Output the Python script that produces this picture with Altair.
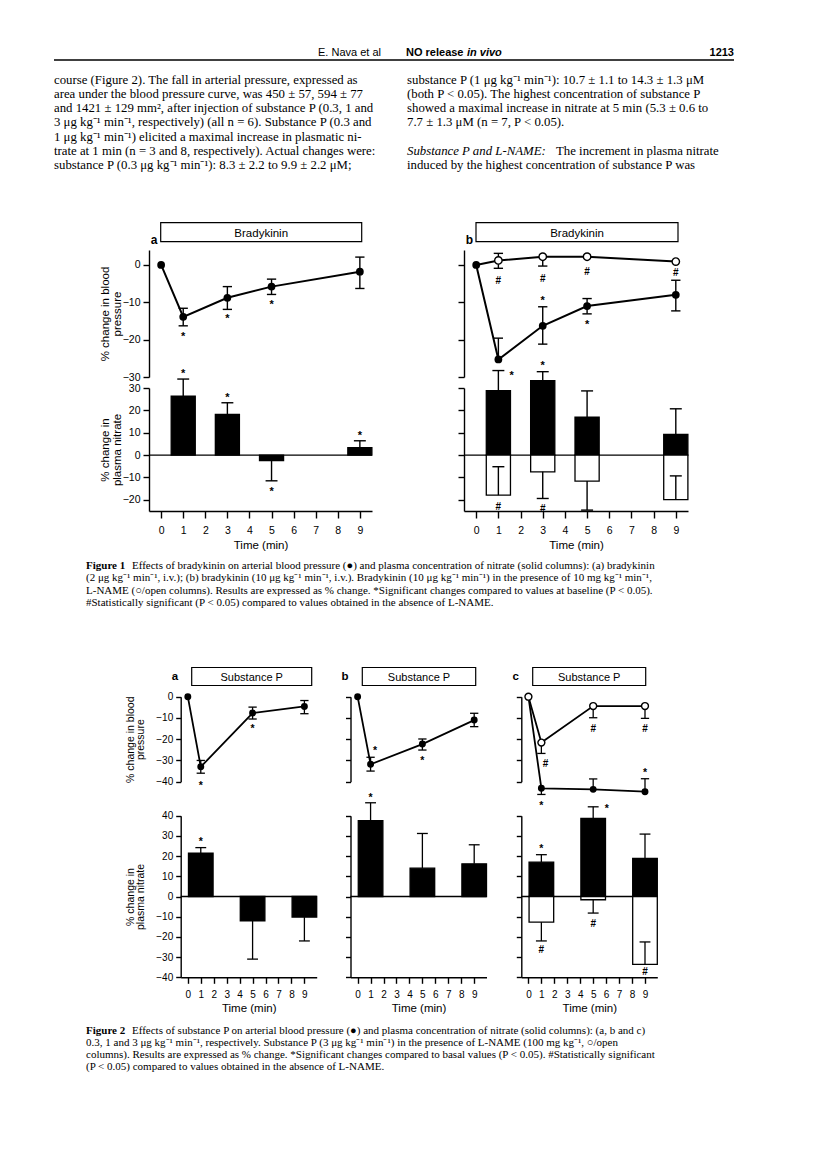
import altair as alt
import pandas as pd

M = 8            # page margin of the html page
W, H = 800, 1145 # drawing area
SANS = "Liberation Sans, Arial, Helvetica, sans-serif"
SERIF = "Liberation Serif, Times New Roman, serif"

# ======================= page text =======================
head_author = "E. Nava et al"
head_title = "NO release"
head_title_it = "in vivo"
head_page = "1213"
left_column = [
    "course (Figure 2). The fall in arterial pressure, expressed as",
    "area under the blood pressure curve, was 450 ± 57, 594 ± 77",
    "and 1421 ± 129 mm², after injection of substance P (0.3, 1 and",
    "3 μg kg⁻¹ min⁻¹, respectively) (all n = 6). Substance P (0.3 and",
    "1 μg kg⁻¹ min⁻¹) elicited a maximal increase in plasmatic ni-",
    "trate at 1 min (n = 3 and 8, respectively). Actual changes were:",
    "substance P (0.3 μg kg⁻¹ min⁻¹):  8.3 ± 2.2  to  9.9 ± 2.2 μM;",
]
right_column = [
    "substance P (1 μg kg⁻¹ min⁻¹):  10.7 ± 1.1  to  14.3 ± 1.3 μM",
    "(both P < 0.05). The highest concentration of substance P",
    "showed a maximal increase in nitrate at 5 min (5.3 ± 0.6 to",
    "7.7 ± 1.3 μM (n = 7, P < 0.05).",
]
right_heading = "Substance P and L-NAME:"
right_after_heading = "The increment in plasma nitrate"
right_last = "induced by the highest concentration of substance P was"

cap1_label = "Figure 1"
cap1_first = "Effects of bradykinin on arterial blood pressure (●) and plasma concentration of nitrate (solid columns): (a) bradykinin"
cap1_rest = [
    "(2 μg kg⁻¹ min⁻¹, i.v.); (b) bradykinin (10 μg kg⁻¹ min⁻¹, i.v.). Bradykinin (10 μg kg⁻¹ min⁻¹) in the presence of 10 mg kg⁻¹ min⁻¹,",
    "L-NAME (○/open columns). Results are expressed as % change. *Significant changes compared to values at baseline (P < 0.05).",
    "#Statistically significant (P < 0.05) compared to values obtained in the absence of L-NAME.",
]
cap2_label = "Figure 2"
cap2_first = "Effects of substance P on arterial blood pressure (●) and plasma concentration of nitrate (solid columns): (a, b and c)"
cap2_rest = [
    "0.3, 1 and 3 μg kg⁻¹ min⁻¹, respectively. Substance P (3 μg kg⁻¹ min⁻¹) in the presence of L-NAME (100 mg kg⁻¹, ○/open",
    "columns). Results are expressed as % change. *Significant changes compared to basal values (P < 0.05). #Statistically significant",
    "(P < 0.05) compared to values obtained in the absence of L-NAME.",
]
fig1_drug = "Bradykinin"
fig2_drug = "Substance P"
bp_title = ["% change in blood", "pressure"]
no_title = ["% change in", "plasma nitrate"]
time_title = "Time (min)"
x_ticks = [0, 1, 2, 3, 4, 5, 6, 7, 8, 9]

# ======================= Figure 1 data (bradykinin) =======================
f1_time = [0, 1, 3, 5, 9]
f1_bar_time = [1, 3, 5, 9]
# panel a, blood pressure
f1a_bp = [0, -13.9, -8.8, -5.8, -1.8]
f1a_bp_hi = [0, -11.6, -5.8, -3.8, 2.1]
f1a_bp_lo = [0, -16.3, -11.9, -7.9, -6.3]
f1a_bp_star_t = [1, 3, 5]
f1a_bp_star_y = [-18.5, -13.8, -9.9]
# panel a, nitrate
f1a_no = [26.4, 18.2, -2.5, 3.3]
f1a_no_err = [34.0, 23.4, -11.5, 6.4]
f1a_no_star_t = [1, 3, 5, 9]
f1a_no_star_y = [37.8, 27.0, -15.0, 10.0]
# panel b, blood pressure
f1b_bp = [0, -25.3, -16.3, -11.0, -8.0]
f1b_bp_hi = [0, -19.6, -11.2, -9.0, -4.1]
f1b_bp_lo = [0, -25.3, -21.2, -13.1, -12.3]
f1b_bp_ln = [0, 1.2, 2.2, 2.2, 0.9]
f1b_bp_ln_hi = [0, 3.1, 2.2, 2.2, 0.9]
f1b_bp_ln_lo = [0, -0.9, -0.3, 2.2, 0.9]
f1b_bp_star_t = [3, 5]
f1b_bp_star_y = [-8.9, -15.2]
f1b_bp_hash_t = [1, 3, 5, 9]
f1b_bp_hash_y = [-4.0, -3.4, -1.5, -2.0]
# panel b, nitrate
f1b_no = [28.8, 33.3, 17.0, 9.3]
f1b_no_err = [37.8, 37.3, 28.7, 20.7]
f1b_no_ln = [-17.9, -7.5, -11.6, -19.9]
f1b_no_ln_err = [-5.2, -19.4, -24.6, -9.3]
f1b_no_star_t = [1.6, 3]
f1b_no_star_y = [36.9, 41.0]
f1b_no_hash_t = [1, 3]
f1b_no_hash_y = [-22.8, -23.6]

# ======================= Figure 2 data (substance P) =======================
f2_time = [0, 1, 5, 9]
f2_bar_time = [1, 5, 9]
# a
f2a_bp = [0, -33.0, -7.7, -4.6]
f2a_bp_hi = [0, -30.0, -4.9, -1.8]
f2a_bp_lo = [0, -36.0, -10.5, -8.0]
f2a_bp_star_t = [1, 5]
f2a_bp_star_y = [-40.5, -13.8]
f2a_no = [21.5, -12.0, -10.2]
f2a_no_err = [24.2, -31.0, -22.0]
f2a_no_star_t = [1]
f2a_no_star_y = [28.5]
# b
f2b_bp = [0, -31.8, -22.3, -11.0]
f2b_bp_hi = [0, -28.5, -19.9, -7.8]
f2b_bp_lo = [0, -35.0, -25.1, -14.1]
f2b_bp_star_t = [1.35, 5]
f2b_bp_star_y = [-24.3, -29.0]
f2b_no = [37.6, 14.0, 16.2]
f2b_no_err = [46.4, 31.2, 25.6]
f2b_no_star_t = [1]
f2b_no_star_y = [50.4]
# c
f2c_bp = [0, -43.1, -43.6, -44.7]
f2c_bp_hi = [0, -43.1, -38.7, -38.6]
f2c_bp_lo = [0, -46.0, -43.6, -44.7]
f2c_bp_ln = [0, -21.6, -4.4, -4.4]
f2c_bp_ln_lo = [0, -26.7, -9.9, -10.2]
f2c_bp_star_t = [1, 9]
f2c_bp_star_y = [-50.0, -34.5]
f2c_bp_hash_t = [1.33, 5, 9]
f2c_bp_hash_y = [-31.4, -14.9, -14.9]
f2c_no = [17.0, 38.7, 18.8]
f2c_no_err = [20.7, 44.4, 30.9]
f2c_no_ln = [-12.7, -1.6, -33.6]
f2c_no_ln_err = [-22.0, -8.2, -22.5]
f2c_no_star_t = [1, 6.05]
f2c_no_star_y = [24.8, 44.8]
f2c_no_hash_t = [1, 5, 9]
f2c_no_hash_y = [-25.8, -13.0, -36.9]

# ======================= layout (page pixels) =======================
F1_XDOM = [-0.55, 9.55]
F1_XR = {"a": [149, 372], "b": [464, 688]}
F1_TOP = ([-30, 4], [377, 250])
F1_BOT = ([-25, 30], [511, 388])
F2_XDOM = [-0.55, 9.95]
F2_XR = {"a": [180.7, 316.7], "b": [350.5, 486.5], "c": [521.3, 657.3]}
F2_TOP = ([-40, 0], [781.7, 696.7])
F2_BOT = ([-40, 40], [977.3, 815.7])

DUMMY = pd.DataFrame({"k": [0]})


def sc(dom, rng):
    return alt.Scale(domain=dom, range=[rng[0] - M, rng[1] - M], nice=False, zero=False)


def yaxis(axis_x, values, title=None, labels=True, tick=6, lab=10.5, tsize=11.5, tx=-30, ty=0,
          lh=12):
    kw = dict(orient="left", offset=-(axis_x - M), values=values, tickSize=tick, labels=labels,
              labelFontSize=lab, labelPadding=3, grid=False, labelFlush=False, labelOverlap=False)
    if title:
        kw.update(title=title, titleFontSize=tsize, titleAngle=-90, titleAlign="center",
                  titleBaseline="bottom", titleX=tx, titleY=ty - M, titleLineHeight=lh)
    else:
        kw.update(title=None)
    return alt.Axis(**kw)


def xaxis(axis_y, lab=10.5, tsize=11.5, tick=7, pad=5, tpad=3):
    return alt.Axis(orient="bottom", offset=(axis_y - M) - H, values=x_ticks, tickSize=tick,
                    labelFontSize=lab, labelPadding=pad, format="d", title=time_title,
                    titleFontSize=tsize, titlePadding=tpad, grid=False, labelFlush=False,
                    labelOverlap=False)


class Panel:
    """One plotting panel: x/y scales and axes shared by all of its layers."""

    def __init__(self, xs, ys, xax, yax):
        self.xs, self.ys, self.xax, self.yax = xs, ys, xax, yax
        self.layers = []

    def X(self, f):
        return alt.X(f, scale=self.xs, axis=self.xax)

    def Y(self, f):
        return alt.Y(f, scale=self.ys, axis=self.yax)

    def line(self, t, v, width):
        df = pd.DataFrame({"t": t, "v": v})
        self.layers.append(alt.Chart(df).mark_line(color="black", strokeWidth=width).encode(
            x=self.X("t:Q"), y=self.Y("v:Q")))

    def errs(self, t, v, ends, capw, width):
        rows = [(a, b, c) for a, b, c in zip(t, v, ends) if abs(c - b) > 1e-9]
        df = pd.DataFrame(rows, columns=["t", "v", "e"])
        base = alt.Chart(df)
        self.layers.append(base.mark_rule(color="black", strokeWidth=width).encode(
            x=self.X("t:Q"), y=self.Y("v:Q"), y2="e:Q"))
        self.layers.append(base.transform_calculate(
            c1=f"datum.t - {capw}", c2=f"datum.t + {capw}").mark_rule(
            color="black", strokeWidth=width).encode(x=self.X("c1:Q"), x2="c2:Q", y=self.Y("e:Q")))

    def dots(self, t, v, size, hollow=False):
        df = pd.DataFrame({"t": t, "v": v})
        if hollow:
            mk = alt.Chart(df).mark_point(shape="circle", filled=True, fill="white",
                                          stroke="black", strokeWidth=1.4, size=size, opacity=1)
        else:
            mk = alt.Chart(df).mark_point(shape="circle", filled=True, color="black", size=size,
                                          opacity=1)
        self.layers.append(mk.encode(x=self.X("t:Q"), y=self.Y("v:Q")))

    def symbols(self, t, y, sym, size, dy):
        df = pd.DataFrame({"t": t, "y": y, "s": [sym] * len(t)})
        self.layers.append(alt.Chart(df).mark_text(
            font=SANS, fontSize=size, color="black", fontWeight="bold", baseline="alphabetic",
            dy=dy).encode(x=self.X("t:Q"), y=self.Y("y:Q"), text="s:N"))

    def bars(self, t, v, hw, hollow=False):
        df = pd.DataFrame({"t": t, "v": v})
        self.layers.append(alt.Chart(df).transform_calculate(
            b1=f"datum.t - {hw}", b2=f"datum.t + {hw}", z="0").mark_rect(
            fill="white" if hollow else "black", stroke="black", strokeWidth=1.3).encode(
            x=self.X("b1:Q"), x2="b2:Q", y=self.Y("v:Q"), y2="z:Q"))

    def zero_line(self, xdom):
        df = pd.DataFrame({"a": [xdom[0]], "b": [xdom[1]], "z": [0]})
        self.layers.append(alt.Chart(df).mark_rule(color="black", strokeWidth=1.3).encode(
            x=self.X("a:Q"), x2="b:Q", y=self.Y("z:Q")))

    def chart(self):
        return alt.layer(*self.layers)


def text_mark(lines, x, y, size, font=SERIF, weight="normal", style="normal", align="left",
              lh=None):
    kw = dict(font=font, fontSize=size, fontWeight=weight, fontStyle=style, align=align,
              baseline="alphabetic", color="black")
    if lh:
        kw["lineHeight"] = lh
    return alt.Chart(DUMMY).mark_text(**kw).encode(
        x=alt.value(x - M), y=alt.value(y - M), text=alt.value(lines))


def box(x1, x2, y1, y2, label, size, letter, lx, ly):
    r = alt.Chart(DUMMY).mark_rect(fill="white", stroke="black", strokeWidth=1.2).encode(
        x=alt.value(x1 - M), x2=alt.value(x2 - M), y=alt.value(y1 - M), y2=alt.value(y2 - M))
    t = text_mark(label, (x1 + x2) / 2, y2 - 5, size, font=SANS, align="center")
    l = text_mark(letter, lx, ly, size + 0.5, font=SANS, weight="bold", align="center")
    return [r, t, l]


layers = []

# ---------------------------------------------------------------- Figure 1
for key in ["a", "b"]:
    xr = F1_XR[key]
    xs = sc(F1_XDOM, xr)
    first = key == "a"
    yax_t = yaxis(xr[0], [0, -10, -20, -30], bp_title if first else None, labels=first,
                  tx=-39, ty=(F1_TOP[1][0] + F1_TOP[1][1]) / 2)
    yax_b = yaxis(xr[0], [30, 20, 10, 0, -10, -20], no_title if first else None, labels=first,
                  tx=-39, ty=(F1_BOT[1][0] + F1_BOT[1][1]) / 2)
    top = Panel(xs, sc(*F1_TOP), None, yax_t)
    bot = Panel(xs, sc(*F1_BOT), xaxis(F1_BOT[1][0], pad=7, tpad=4), yax_b)
    if first:
        top.line(f1_time, f1a_bp, 2.0)
        top.errs(f1_time, f1a_bp, f1a_bp_hi, 0.21, 1.4)
        top.errs(f1_time, f1a_bp, f1a_bp_lo, 0.21, 1.4)
        top.dots(f1_time, f1a_bp, 60)
        top.symbols(f1a_bp_star_t, f1a_bp_star_y, "*", 11, 6)
        bot.zero_line(F1_XDOM)
        bot.bars(f1_bar_time, f1a_no, 0.545)
        bot.errs(f1_bar_time, f1a_no, f1a_no_err, 0.27, 1.4)
        bot.symbols(f1a_no_star_t, f1a_no_star_y, "*", 11, 6)
    else:
        top.line(f1_time, f1b_bp_ln, 2.0)
        top.line(f1_time, f1b_bp, 2.0)
        for hi_lo in (f1b_bp_hi, f1b_bp_lo):
            top.errs(f1_time, f1b_bp, hi_lo, 0.21, 1.4)
        for hi_lo in (f1b_bp_ln_hi, f1b_bp_ln_lo):
            top.errs(f1_time, f1b_bp_ln, hi_lo, 0.21, 1.4)
        top.dots(f1_time[1:], f1b_bp_ln[1:], 55, hollow=True)
        top.dots(f1_time, f1b_bp, 60)
        top.symbols(f1b_bp_star_t, f1b_bp_star_y, "*", 11, 6)
        top.symbols(f1b_bp_hash_t, f1b_bp_hash_y, "#", 10, 4)
        bot.zero_line(F1_XDOM)
        bot.bars(f1_bar_time, f1b_no, 0.545)
        bot.bars(f1_bar_time, f1b_no_ln, 0.545, hollow=True)
        bot.errs(f1_bar_time, f1b_no, f1b_no_err, 0.27, 1.4)
        bot.errs(f1_bar_time, f1b_no_ln, f1b_no_ln_err, 0.27, 1.4)
        bot.symbols(f1b_no_star_t, f1b_no_star_y, "*", 11, 6)
        bot.symbols(f1b_no_hash_t, f1b_no_hash_y, "#", 10, 4)
    layers.append(top.chart())
    layers.append(bot.chart())

layers += box(160.7, 361.7, 222.7, 241.7, fig1_drug, 11.5, "a", 154, 244)
layers += box(476, 678, 222.7, 241.7, fig1_drug, 11.5, "b", 469.5, 244)

# ---------------------------------------------------------------- Figure 2
f2_sets = {
    "a": dict(bp=f2a_bp, hi=f2a_bp_hi, lo=f2a_bp_lo, st=(f2a_bp_star_t, f2a_bp_star_y),
              no=f2a_no, ne=f2a_no_err, nst=(f2a_no_star_t, f2a_no_star_y)),
    "b": dict(bp=f2b_bp, hi=f2b_bp_hi, lo=f2b_bp_lo, st=(f2b_bp_star_t, f2b_bp_star_y),
              no=f2b_no, ne=f2b_no_err, nst=(f2b_no_star_t, f2b_no_star_y)),
    "c": dict(bp=f2c_bp, hi=f2c_bp_hi, lo=f2c_bp_lo, st=(f2c_bp_star_t, f2c_bp_star_y),
              no=f2c_no, ne=f2c_no_err, nst=(f2c_no_star_t, f2c_no_star_y)),
}
for key in ["a", "b", "c"]:
    d = f2_sets[key]
    xr = F2_XR[key]
    xs = sc(F2_XDOM, xr)
    first = key == "a"
    yax_t = yaxis(xr[0], [0, -10, -20, -30, -40], bp_title if first else None, labels=first,
                  tick=5, lab=10, tsize=10.5, tx=-45.5, ty=(F2_TOP[1][0] + F2_TOP[1][1]) / 2,
                  lh=10.5)
    yax_b = yaxis(xr[0], [40, 30, 20, 10, 0, -10, -20, -30, -40], no_title if first else None,
                  labels=first, tick=5, lab=10, tsize=10.5, tx=-45.5,
                  ty=(F2_BOT[1][0] + F2_BOT[1][1]) / 2, lh=10.5)
    top = Panel(xs, sc(*F2_TOP), None, yax_t)
    bot = Panel(xs, sc(*F2_BOT), xaxis(F2_BOT[1][0], lab=10, tsize=11.5, tick=6, pad=6, tpad=3),
                yax_b)
    if key == "c":
        top.line(f2_time, f2c_bp_ln, 1.8)
        top.line(f2_time, d["bp"], 1.8)
        top.errs(f2_time, f2c_bp_ln, f2c_bp_ln_lo, 0.32, 1.3)
    else:
        top.line(f2_time, d["bp"], 1.8)
    top.errs(f2_time, d["bp"], d["hi"], 0.32, 1.3)
    top.errs(f2_time, d["bp"], d["lo"], 0.32, 1.3)
    top.dots(f2_time, d["bp"], 48)
    if key == "c":
        top.dots(f2_time, f2c_bp_ln, 48, hollow=True)
        top.symbols(f2c_bp_hash_t, f2c_bp_hash_y, "#", 10, 4)
    top.symbols(d["st"][0], d["st"][1], "*", 10.5, 6)

    bot.zero_line(F2_XDOM)
    bot.bars(f2_bar_time, d["no"], 0.95)
    bot.errs(f2_bar_time, d["no"], d["ne"], 0.42, 1.3)
    if key == "c":
        bot.bars(f2_bar_time, f2c_no_ln, 0.95, hollow=True)
        bot.errs(f2_bar_time, f2c_no_ln, f2c_no_ln_err, 0.42, 1.3)
        bot.symbols(f2c_no_hash_t, f2c_no_hash_y, "#", 10, 4)
    bot.symbols(d["nst"][0], d["nst"][1], "*", 10.5, 6)
    layers.append(top.chart())
    layers.append(bot.chart())

layers += box(191.7, 311.7, 667.5, 685.5, fig2_drug, 11, "a", 175, 680)
layers += box(362.3, 475.7, 667.5, 685.5, fig2_drug, 11, "b", 345, 680)
layers += box(532.7, 645.7, 667.5, 685.5, fig2_drug, 11, "c", 515.7, 680)

# ---------------------------------------------------------------- page text
layers.append(text_mark(head_author, 381, 56, 11, font=SANS, align="right"))
layers.append(text_mark(head_title, 406, 56, 11, font=SANS, weight="bold"))
layers.append(text_mark(head_title_it, 467, 56, 11, font=SANS, weight="bold", style="italic"))
layers.append(text_mark(head_page, 734, 56, 11, font=SANS, weight="bold", align="right"))
layers.append(alt.Chart(DUMMY).mark_rule(color="black", strokeWidth=1.6).encode(
    x=alt.value(54 - M), x2=alt.value(734 - M), y=alt.value(60 - M)))
layers.append(text_mark(left_column, 54, 83.5, 12.8, lh=14.3))
layers.append(text_mark(right_column, 407, 83.5, 12.8, lh=14.3))
layers.append(text_mark(right_heading, 407, 155, 12.8, style="italic"))
layers.append(text_mark(right_after_heading, 556, 155, 12.8))
layers.append(text_mark(right_last, 407, 169.3, 12.8))

layers.append(text_mark(cap1_label, 86, 569, 11, weight="bold"))
layers.append(text_mark(cap1_first, 132, 569, 11))
layers.append(text_mark(cap1_rest, 86, 581.3, 11, lh=12.3))
layers.append(text_mark(cap2_label, 86, 1033.5, 11, weight="bold"))
layers.append(text_mark(cap2_first, 132, 1033.5, 11))
layers.append(text_mark(cap2_rest, 86, 1045.8, 11, lh=12.3))

chart = alt.layer(*layers).resolve_scale(x="independent", y="independent").properties(
    width=W, height=H, padding=0, autosize=alt.AutoSizeParams(type="none"),
    background="white"
).configure_view(stroke=None).configure_axis(
    domainColor="black", domainWidth=1.4, tickColor="black", tickWidth=1.4,
    labelColor="black", titleColor="black", labelFont=SANS, titleFont=SANS,
    titleFontWeight="normal", grid=False
)

chart.save("out.html", embed_options={"renderer": "svg", "actions": False})
